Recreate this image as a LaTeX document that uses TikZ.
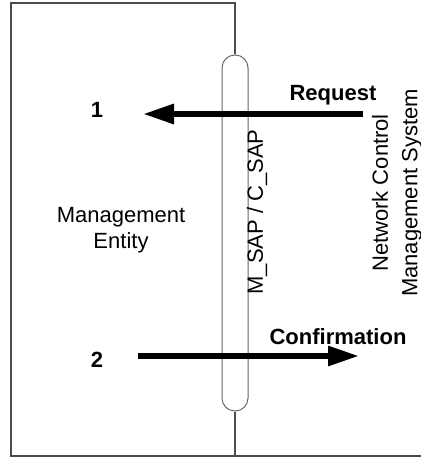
\documentclass[tikz,border=0pt]{standalone}
\usepackage{fontspec}
\setmainfont{Liberation Sans}
\usetikzlibrary{positioning, arrows.meta}
\tikzstyle{boxline} = [draw=black!70, line width=0.6pt]
\tikzstyle{sapbar} = [rectangle, draw=black!60, line width=0.5pt, minimum width=13pt, minimum height=178pt, rounded corners=6.4pt, inner sep=0pt]
\tikzstyle{plaintext} = [font=\fontsize{11}{13}\selectfont, align=center, inner sep=0pt]
\tikzstyle{boldtext} = [font=\fontsize{11}{13}\selectfont\bfseries, inner sep=0pt]
\tikzstyle{flow} = [line width=3pt, -{Triangle[length=15.5pt,width=9.5pt]}]

\begin{document}
\begin{tikzpicture}[x=0.5pt, y=-0.5pt]
            \useasboundingbox (0,0) rectangle (421,459);

            \coordinate (topleft) at (11,3);
            \coordinate (topright) at (235,3);
            \coordinate (botleft) at (11,456);
            \coordinate (botright) at (421,456);
            \coordinate (botmid) at (235,456);

            \node (sap) [sapbar] at (235,233) {};
            \node (entity) [plaintext] at (121,230) {Management\\Entity};
            \node (saplabel) [plaintext, rotate=90] at (257,212) {M\_SAP / C\_SAP};
            \node (ncms) [plaintext, rotate=90, font=\fontsize{11}{14.75}\selectfont] at (397,193) {Network Control\\Management System};
            \node (one) [boldtext] at (97,110) {1};
            \node (two) [boldtext] at (97,360) {2};
            \node (request) [boldtext] at (333,95) {Request};
            \node (confirm) [boldtext] at (338,337) {Confirmation};

            \coordinate (reqtail) at (363,114);
            \coordinate (reqtip) at (143,114);
            \coordinate (conftail) at (138,356);
            \coordinate (conftip) at (359,356);

            \draw [boxline] (sap.north) -- (topright) -- (topleft) -- (botleft) -- (botright);
            \draw [boxline] (sap.south) -- (botmid);
            \draw [flow] (reqtail) -- (reqtip);
            \draw [flow] (conftail) -- (conftip);

        \end{tikzpicture}
\end{document}
